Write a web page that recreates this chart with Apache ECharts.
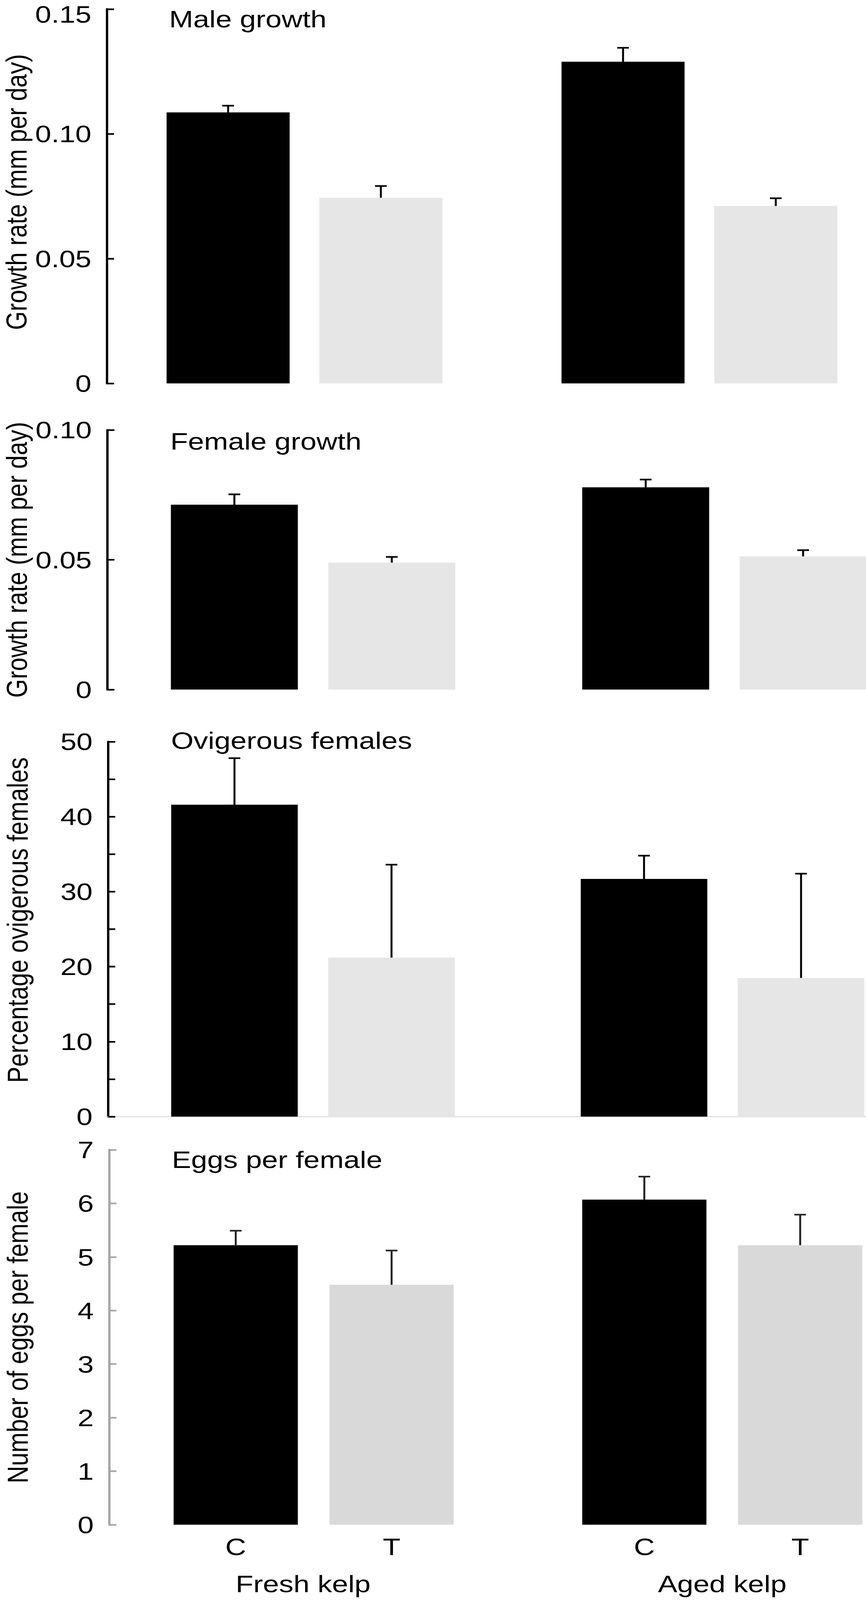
<!DOCTYPE html>
<html>
<head>
<meta charset="utf-8">
<title>Kelp growth</title>
<script src="https://cdn.jsdelivr.net/npm/echarts@6/dist/echarts.min.js"></script>
<style>
  html, body { margin: 0; padding: 0; background: #fff; overflow: hidden; }
  #main { width: 2217px; height: 4912px; transform-origin: 0 0; }
</style>
</head>
<body>
<div id="main"></div>
<script>
// categories
var groups = ['Fresh kelp', 'Aged kelp'];
var treatments = ['C', 'T'];

// male growth (mm per day), mean and SE
var maleC = [0.1086, 0.1289];
var maleCErr = [0.0027, 0.0056];
var maleT = [0.0744, 0.0711];
var maleTErr = [0.0047, 0.0031];

// female growth (mm per day)
var femaleC = [0.0712, 0.0779];
var femaleCErr = [0.0040, 0.0030];
var femaleT = [0.0489, 0.0513];
var femaleTErr = [0.0022, 0.0024];

// percentage ovigerous females
var ovigC = [41.6, 31.7];
var ovigCErr = [6.2, 3.1];
var ovigT = [21.2, 18.5];
var ovigTErr = [12.4, 13.9];

// eggs per female
var eggsC = [5.22, 6.07];
var eggsCErr = [0.27, 0.43];
var eggsT = [4.48, 5.22];
var eggsTErr = [0.64, 0.57];

// tick labels
var maleTicks = ['0', '0.05', '0.10', '0.15'];
var femaleTicks = ['0', '0.05', '0.10'];
var ovigTicks = ['0', '10', '20', '30', '40', '50'];
var eggsTicks = ['0', '1', '2', '3', '4', '5', '6', '7'];

var FONT = 'Liberation Sans, Arial, sans-serif';

var panels = [
    {title: 'Male growth', yName: 'Growth rate (mm per day)', c: maleC, cErr: maleCErr, t: maleT, tErr: maleTErr,
     max: 0.15, interval: 0.05, ticks: maleTicks, tickStep: 1, topPad: 30,
     top: 28, height: 1149, left: 274, width: 2022, bw: 315, gap: 76, nameGap: 192, namePad: 26,
     titleTop: 21, titleLeft: 433, axisColor: '#000', grey: '#e6e6e6', errColor: '#000'},
    {title: 'Female growth', yName: 'Growth rate (mm per day)', c: femaleC, cErr: femaleCErr, t: femaleT, tErr: femaleTErr,
     max: 0.10, interval: 0.05, ticks: femaleTicks, tickStep: 1, topPad: 0,
     top: 1320, height: 797, left: 275, width: 2106, bw: 325, gap: 78, nameGap: 193, namePad: 0,
     titleTop: 1317, titleLeft: 436, axisColor: '#000', grey: '#e6e6e6', errColor: '#000'},
    {title: 'Ovigerous females', yName: 'Percentage ovigerous females', c: ovigC, cErr: ovigCErr, t: ovigT, tErr: ovigTErr,
     max: 50, interval: 5, ticks: ovigTicks, tickStep: 2, topPad: 0,
     top: 2277, height: 1151, left: 277, width: 2097, bw: 324, gap: 78, nameGap: 195, namePad: 56,
     titleTop: 2236, titleLeft: 438, axisColor: '#000', grey: '#e6e6e6', errColor: '#000', baseLine: true},
    {title: 'Eggs per female', yName: 'Number of eggs per female', c: eggsC, cErr: eggsCErr, t: eggsT, tErr: eggsTErr,
     max: 7, interval: 1, ticks: eggsTicks, tickStep: 1, topPad: 0,
     top: 3530, height: 1151, left: 280, width: 2092, bw: 318, gap: 81, nameGap: 198, namePad: 0,
     titleTop: 3522, titleLeft: 440, axisColor: '#a6a6a6', grey: '#d9d9d9', errColor: '#262626', bottomLabels: true}
];

// upper error bar with a cap, shifted onto its bar inside the group
function errorBar(side, bw, gap, color) {
    return function (params, api) {
        var v = api.value(1);
        var e = api.value(2);
        var p0 = api.coord([api.value(0), v]);
        var p1 = api.coord([api.value(0), v + e]);
        var cx = p0[0] + side * (bw + gap) / 2;
        var st = {stroke: color, lineWidth: 5};
        return {
            type: 'group',
            children: [
                {type: 'line', shape: {x1: cx, y1: p0[1], x2: cx, y2: p1[1]}, style: st},
                {type: 'line', shape: {x1: cx - 15, y1: p1[1], x2: cx + 15, y2: p1[1]}, style: st}
            ]
        };
    };
}

var grids = [], xAxes = [], yAxes = [], series = [], titles = [];

panels.forEach(function (p, i) {
    grids.push({left: p.left, top: p.top, width: p.width, height: p.height, outerBoundsMode: 'none'});
    titles.push({
        text: p.title, left: p.titleLeft, top: p.titleTop, padding: 0,
        textStyle: {fontFamily: FONT, fontSize: 74, fontWeight: 'normal', color: '#000'}
    });
    xAxes.push({
        type: 'category', gridIndex: i, data: groups,
        axisLine: {show: !!p.baseLine, lineStyle: {color: '#e3e3e3', width: 4}},
        axisTick: {show: false},
        axisLabel: {
            show: !!p.bottomLabels, margin: 144, fontFamily: FONT, fontSize: 74, color: '#000',
            rich: {
                // "Fresh kelp" stands a bit left of its group centre
                left: {fontFamily: FONT, fontSize: 74, color: '#000', padding: [0, 54, 0, 0]}
            },
            formatter: function (v, idx) {
                return idx === 0 ? '{left|' + v + '}' : v;
            }
        }
    });
    yAxes.push({
        type: 'value', gridIndex: i, min: 0, max: p.max, interval: p.interval,
        name: p.yName, nameLocation: 'middle', nameGap: p.nameGap,
        nameTextStyle: {fontFamily: FONT, fontSize: 74, color: '#000', padding: [0, 0, 0, p.namePad]},
        splitLine: {show: false},
        axisLine: {show: true, lineStyle: {color: p.axisColor, width: 6}},
        axisTick: {show: true, inside: true, length: 18, lineStyle: {color: p.axisColor, width: 5}},
        axisLabel: {
            margin: 40, fontFamily: FONT, fontSize: 74, lineHeight: 54, color: '#000',
            rich: {
                // top label of the first panel sits a little lower so it stays on the page
                top: {fontFamily: FONT, fontSize: 74, lineHeight: 54, color: '#000', padding: [p.topPad, 0, 0, 0]}
            },
            formatter: (function (ticks, step, interval, pad) {
                return function (v) {
                    var k = Math.round(v / interval);
                    if (k % step !== 0) return '';
                    var s = ticks[k / step];
                    return (pad && k / step === ticks.length - 1) ? '{top|' + s + '}' : s;
                };
            })(p.ticks, p.tickStep, p.interval, p.topPad)
        }
    });

    var barGap = (p.gap / p.bw * 100) + '%';
    var lab = {
        show: !!p.bottomLabels, position: 'bottom', distance: 30, formatter: '{a}',
        fontFamily: FONT, fontSize: 74, color: '#000'
    };
    series.push({
        name: treatments[0], type: 'bar', xAxisIndex: i, yAxisIndex: i,
        data: p.c, barWidth: p.bw, barGap: barGap, itemStyle: {color: '#000'}, label: lab
    });
    series.push({
        name: treatments[1], type: 'bar', xAxisIndex: i, yAxisIndex: i,
        data: p.t, barWidth: p.bw, barGap: barGap, itemStyle: {color: p.grey}, label: lab
    });
    series.push({
        type: 'custom', xAxisIndex: i, yAxisIndex: i, z: 5,
        renderItem: errorBar(-1, p.bw, p.gap, p.errColor),
        encode: {x: 0, y: 1},
        data: p.c.map(function (v, k) { return [k, v, p.cErr[k]]; })
    });
    series.push({
        type: 'custom', xAxisIndex: i, yAxisIndex: i, z: 5,
        renderItem: errorBar(1, p.bw, p.gap, p.errColor),
        encode: {x: 0, y: 1},
        data: p.t.map(function (v, k) { return [k, v, p.tErr[k]]; })
    });
});

// the window is shorter than the figure: squeeze the whole figure to fit
var box = document.getElementById('main');
var sy = window.innerHeight / 4912;
if (sy < 1) {
    box.style.transform = 'scale(1,' + sy + ')';
}

var chart = echarts.init(box, null, {renderer: 'svg'});
chart.setOption({
    backgroundColor: '#fff',
    animation: false,
    title: titles,
    grid: grids,
    xAxis: xAxes,
    yAxis: yAxes,
    series: series
});
</script>
</body>
</html>
